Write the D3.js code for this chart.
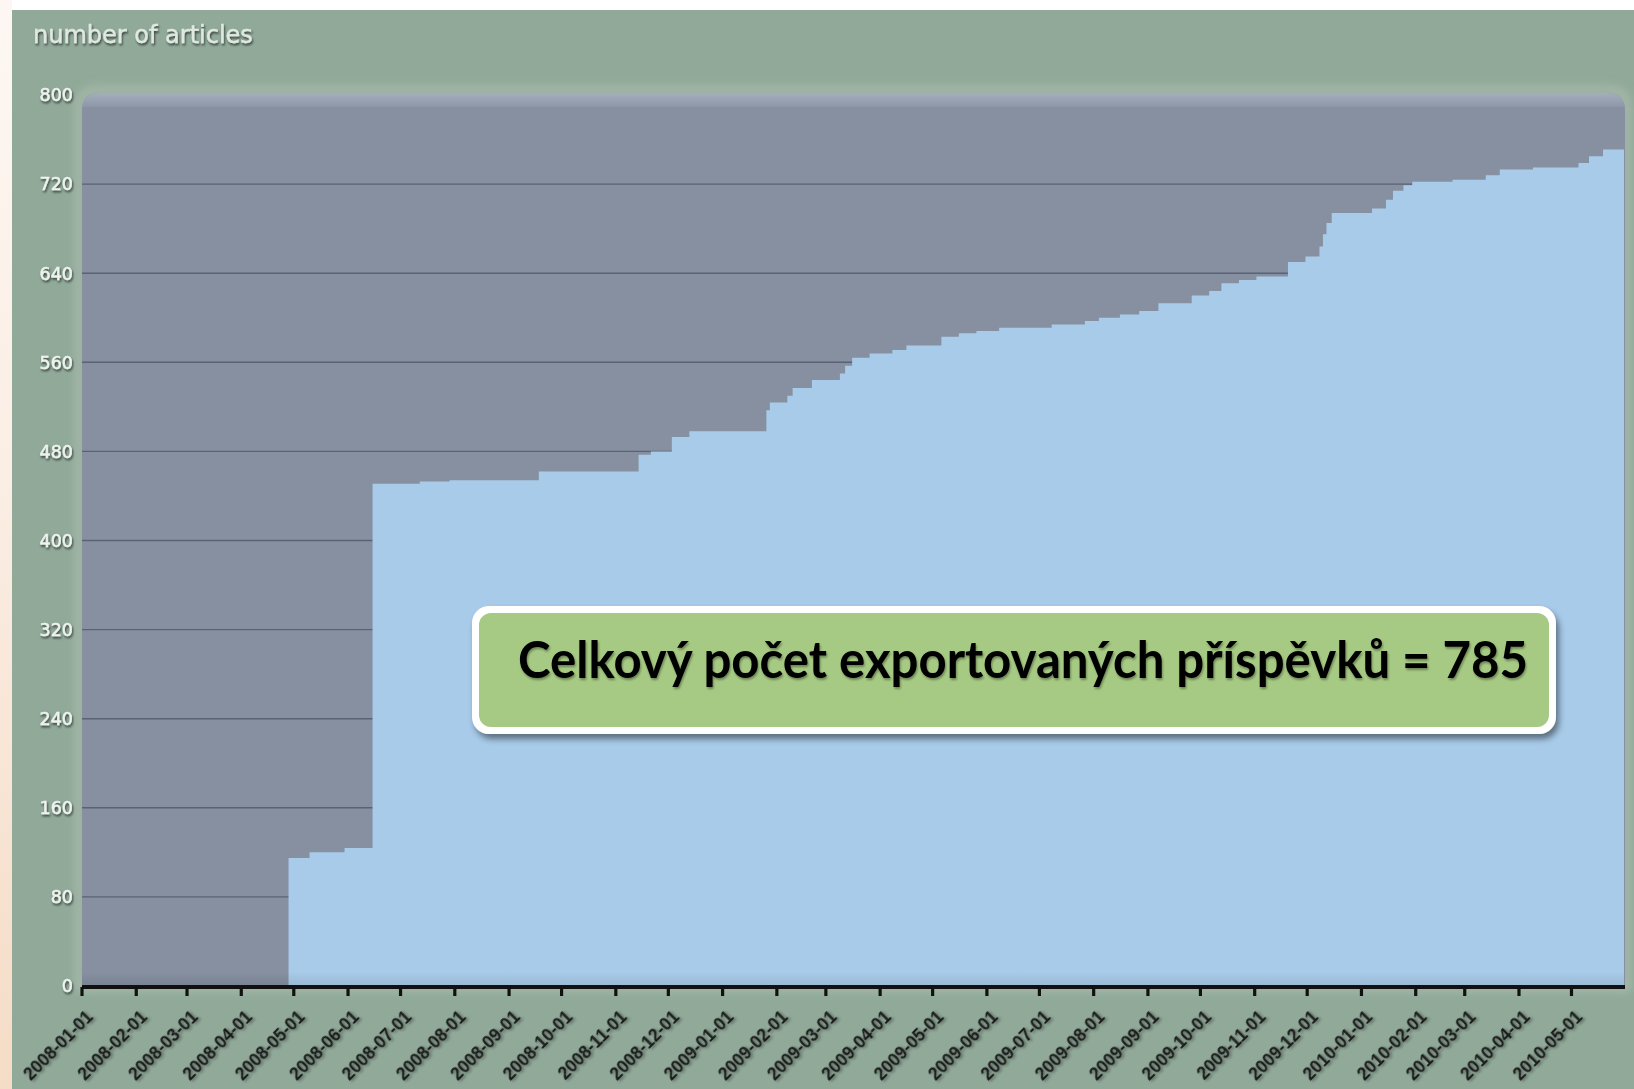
<!DOCTYPE html>
<html>
<head>
<meta charset="utf-8">
<script src="https://cdnjs.cloudflare.com/ajax/libs/d3/7.8.5/d3.min.js"></script>
<style>
  html, body { margin: 0; padding: 0; background: #ffffff; }
  svg { display: block; }
</style>
</head>
<body>
<svg id="chart" width="1634" height="1089"></svg>
<script>
// ---------------- DATA ----------------
const stepDates = ["2008-01-01","2008-04-28","2008-05-10","2008-05-30","2008-06-15","2008-07-12","2008-07-29",
  "2008-09-18","2008-11-14","2008-11-21","2008-12-03","2008-12-13","2009-01-26","2009-01-28","2009-02-07",
  "2009-02-10","2009-02-21","2009-03-09","2009-03-12","2009-03-16","2009-03-26","2009-04-08","2009-04-16",
  "2009-05-06","2009-05-16","2009-05-26","2009-06-08","2009-07-08","2009-07-27","2009-08-04","2009-08-16",
  "2009-08-27","2009-09-07","2009-09-26","2009-10-06","2009-10-13","2009-10-23","2009-11-02","2009-11-20",
  "2009-11-30","2009-12-08","2009-12-10","2009-12-12","2009-12-15","2010-01-07","2010-01-15","2010-01-19",
  "2010-01-25","2010-01-30","2010-02-22","2010-03-13","2010-03-21","2010-04-09","2010-05-05","2010-05-11",
  "2010-05-19","2010-05-31"];
const articleCounts = [0,115,120,124,451,453,454,
  462,477,480,493,498,517,524,530,
  537,544,550,557,564,568,571,575,
  583,586,588,591,594,597,600,603,
  606,613,620,624,631,634,637,650,
  655,664,675,685,694,698,706,714,
  719,722,724,728,733,735,739,745,
  751,751];
const yTickValues = [0,80,160,240,320,400,480,560,640,720,800];
const xTickLabels = ["2008-01-01","2008-02-01","2008-03-01","2008-04-01","2008-05-01","2008-06-01",
  "2008-07-01","2008-08-01","2008-09-01","2008-10-01","2008-11-01","2008-12-01","2009-01-01",
  "2009-02-01","2009-03-01","2009-04-01","2009-05-01","2009-06-01","2009-07-01","2009-08-01",
  "2009-09-01","2009-10-01","2009-11-01","2009-12-01","2010-01-01","2010-02-01","2010-03-01",
  "2010-04-01","2010-05-01"];
const axisTitle = "number of articles";
const annotation = "Celkový počet exportovaných příspěvků = 785";
const domainStart = "2008-01-01";
const domainEnd = "2010-05-31";

// ---------------- LAYOUT ----------------
const parse = d3.utcParse("%Y-%m-%d");
const data = stepDates.map((d, i) => ({ date: parse(d), value: articleCounts[i] }));

const L = 82, R = 1624, T = 95, B = 986;
const x = d3.scaleUtc().domain([parse(domainStart), parse(domainEnd)]).range([L, R]);
const y = d3.scaleLinear().domain([0, 800]).range([B, T]);

const svg = d3.select("#chart");
const defs = svg.append("defs");

// gradients & filters
const lg = defs.append("linearGradient").attr("id", "leftStrip").attr("x1", 0).attr("y1", 0).attr("x2", 0).attr("y2", 1);
lg.append("stop").attr("offset", "0%").attr("stop-color", "#fdf7f3");
lg.append("stop").attr("offset", "40%").attr("stop-color", "#fbefe6");
lg.append("stop").attr("offset", "100%").attr("stop-color", "#f5dcc6");

const topG = defs.append("linearGradient").attr("id", "topGlow").attr("x1", 0).attr("y1", 0).attr("x2", 0).attr("y2", 1);
topG.append("stop").attr("offset", "0%").attr("stop-color", "#a4aebd");
topG.append("stop").attr("offset", "100%").attr("stop-color", "#8690a1");

const botShade = defs.append("linearGradient").attr("id", "botShade").attr("x1", 0).attr("y1", 0).attr("x2", 0).attr("y2", 1);
botShade.append("stop").attr("offset", "0%").attr("stop-color", "#000").attr("stop-opacity", 0);
botShade.append("stop").attr("offset", "100%").attr("stop-color", "#000").attr("stop-opacity", 0.09);

function dropShadow(id, dx, dy, sd, op, color) {
  const f = defs.append("filter").attr("id", id).attr("x", "-20%").attr("y", "-20%").attr("width", "140%").attr("height", "160%");
  f.append("feDropShadow").attr("dx", dx).attr("dy", dy).attr("stdDeviation", sd)
    .attr("flood-color", color || "#000").attr("flood-opacity", op);
}
dropShadow("tShadow", 1, 2, 1.3, 0.6);
dropShadow("xShadow", 1, 2, 1.6, 0.4);
dropShadow("boxShadow", 3, 5, 3, 0.45);
dropShadow("bigText", 1, 2, 1.2, 0.35);
const blur = defs.append("filter").attr("id", "glow").attr("x", "-5%").attr("y", "-5%").attr("width", "110%").attr("height", "110%");
blur.append("feGaussianBlur").attr("stdDeviation", 5);

// ---------------- BACKGROUND ----------------
svg.append("rect").attr("x", 0).attr("y", 0).attr("width", 1634).attr("height", 1089).attr("fill", "#ffffff");
svg.append("rect").attr("x", 0).attr("y", 0).attr("width", 12).attr("height", 1089).attr("fill", "url(#leftStrip)");
svg.append("rect").attr("x", 12).attr("y", 10).attr("width", 1622).attr("height", 1079).attr("fill", "#90a998");

// plot panel glow
const rad = 18;
function panelPath(x0, y0, x1, y1, r) {
  return `M${x0},${y1} L${x0},${y0 + r} Q${x0},${y0} ${x0 + r},${y0} L${x1 - r},${y0} Q${x1},${y0} ${x1},${y0 + r} L${x1},${y1} Z`;
}
svg.append("path").attr("d", panelPath(L - 3, T - 5, R + 3, B + 2, rad))
  .attr("fill", "none").attr("stroke", "#aebdb1").attr("stroke-width", 6).attr("filter", "url(#glow)");

// panel
svg.append("path").attr("d", panelPath(L, T - 2, R + 1, B, rad)).attr("fill", "#8690a1");
svg.append("path").attr("d", panelPath(L, T - 2, R + 1, T + 12, rad)).attr("fill", "url(#topGlow)");

// gridlines (under the area)
svg.append("g").selectAll("line")
  .data(yTickValues.filter(v => v > 0 && v < 800))
  .join("line")
  .attr("x1", L).attr("x2", R)
  .attr("y1", d => y(d)).attr("y2", d => y(d))
  .attr("stroke", "#5a6376").attr("stroke-width", 1.4);

// area
const area = d3.area()
  .curve(d3.curveStepAfter)
  .x(d => x(d.date))
  .y0(y(0))
  .y1(d => y(d.value));
svg.append("path").datum(data).attr("d", area).attr("fill", "#a8cbe9");

// subtle bottom inner shade
svg.append("rect").attr("x", L).attr("y", B - 14).attr("width", R - L).attr("height", 14).attr("fill", "url(#botShade)");

// ---------------- AXES ----------------
// y labels
svg.append("g").selectAll("text")
  .data(yTickValues)
  .join("text")
  .attr("x", 73)
  .attr("y", d => y(d))
  .attr("dy", "0.36em")
  .attr("text-anchor", "end")
  .attr("font-family", "'DejaVu Sans', sans-serif")
  .attr("font-size", 17.5)
  .attr("fill", "#eef3ef")
  .attr("stroke", "#eef3ef")
  .attr("stroke-width", 0.5)
  .attr("filter", "url(#tShadow)")
  .text(d => d);

// title
svg.append("text")
  .attr("x", 33).attr("y", 43)
  .attr("font-family", "'DejaVu Sans', sans-serif")
  .attr("font-size", 24)
  .attr("fill", "#dfe8e1")
  .attr("stroke", "#dfe8e1")
  .attr("stroke-width", 0.4)
  .attr("filter", "url(#tShadow)")
  .text(axisTitle);

// x axis
const xAxisG = svg.append("g").attr("transform", `translate(0,${B + 1})`);
xAxisG.append("line").attr("x1", L).attr("x2", R + 1).attr("y1", 0).attr("y2", 0)
  .attr("stroke", "#111").attr("stroke-width", 4);
const ticks = xAxisG.selectAll("g.tick")
  .data(xTickLabels)
  .join("g")
  .attr("class", "tick")
  .attr("transform", d => `translate(${x(parse(d))},0)`);
ticks.append("line").attr("y1", 0).attr("y2", 9).attr("stroke", "#111").attr("stroke-width", 3.2);
ticks.append("text")
  .attr("text-anchor", "end")
  .attr("transform", "translate(12,31) rotate(-45)")
  .attr("font-family", "'Liberation Sans', Arial, sans-serif")
  .attr("font-weight", "bold")
  .attr("font-size", 17.5)
  .attr("fill", "#1c1f1d")
  .attr("filter", "url(#xShadow)")
  .text(d => d);

// ---------------- ANNOTATION ----------------
const bx = 472, by = 606, bw = 1084, bh = 128;
svg.append("rect").attr("x", bx).attr("y", by).attr("width", bw).attr("height", bh)
  .attr("rx", 17).attr("fill", "#ffffff").attr("filter", "url(#boxShadow)");
svg.append("rect").attr("x", bx + 7).attr("y", by + 7).attr("width", bw - 14).attr("height", bh - 14)
  .attr("rx", 12).attr("fill", "#a6ca83");
svg.append("text")
  .attr("x", 518).attr("y", 678)
  .attr("font-family", "Lato, 'Open Sans', sans-serif")
  .attr("font-weight", "bold")
  .attr("font-size", 52)
  .attr("fill", "#000")
  .attr("textLength", 1010)
  .attr("lengthAdjust", "spacingAndGlyphs")
  .attr("filter", "url(#bigText)")
  .text(annotation);
</script>
</body>
</html>
